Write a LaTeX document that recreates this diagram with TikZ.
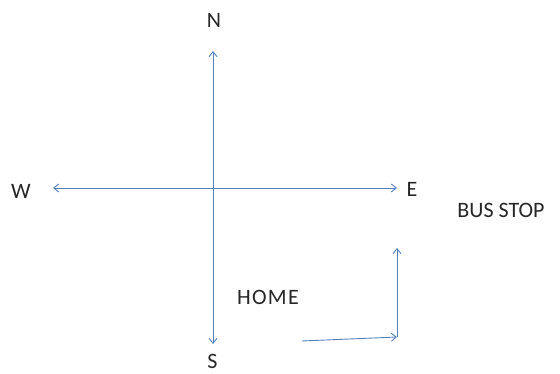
\documentclass[tikz,border=0pt]{standalone}
\usepackage{fontspec}
\setmainfont{Carlito}
\usetikzlibrary{arrows.meta}
\definecolor{arrowblue}{RGB}{84,130,190}
\tikzset{
  lbl/.style={font=\fontsize{22}{26}\selectfont, text=black!85, inner sep=0pt},
  ar/.style={draw=arrowblue, line width=0.9pt, -{Straight Barb[length=5pt,width=8pt]}},
  dar/.style={draw=arrowblue, line width=0.9pt, {Straight Barb[length=5pt,width=8pt]}-{Straight Barb[length=5pt,width=8pt]}}
}
\begin{document}
\begin{tikzpicture}[x=1pt,y=-1pt]
\useasboundingbox (0,0) rectangle (560,374);
\node[lbl] (N) at (214,20) {N};
\node[lbl] (S) at (212.5,361) {S};
\node[lbl] (W) at (21,191) {W};
\node[lbl] (E) at (412,189) {E};
\node[lbl] (bus) at (501,210) {BUS\ STOP};
\node[lbl] (home) at (268,297) {\addfontfeature{LetterSpace=6}HOME};
\coordinate (nt) at (213,51);
\coordinate (st) at (213,344);
\coordinate (wt) at (53,188);
\coordinate (et) at (397,188);
\coordinate (h0) at (302,341);
\coordinate (h1) at (397,337);
\coordinate (h2) at (397,248);
\draw[dar] (nt) -- (st);
\draw[dar] (wt) -- (et);
\draw[ar] (h0) -- (h1);
\draw[ar] (h1) -- (h2);
\end{tikzpicture}
\end{document}
